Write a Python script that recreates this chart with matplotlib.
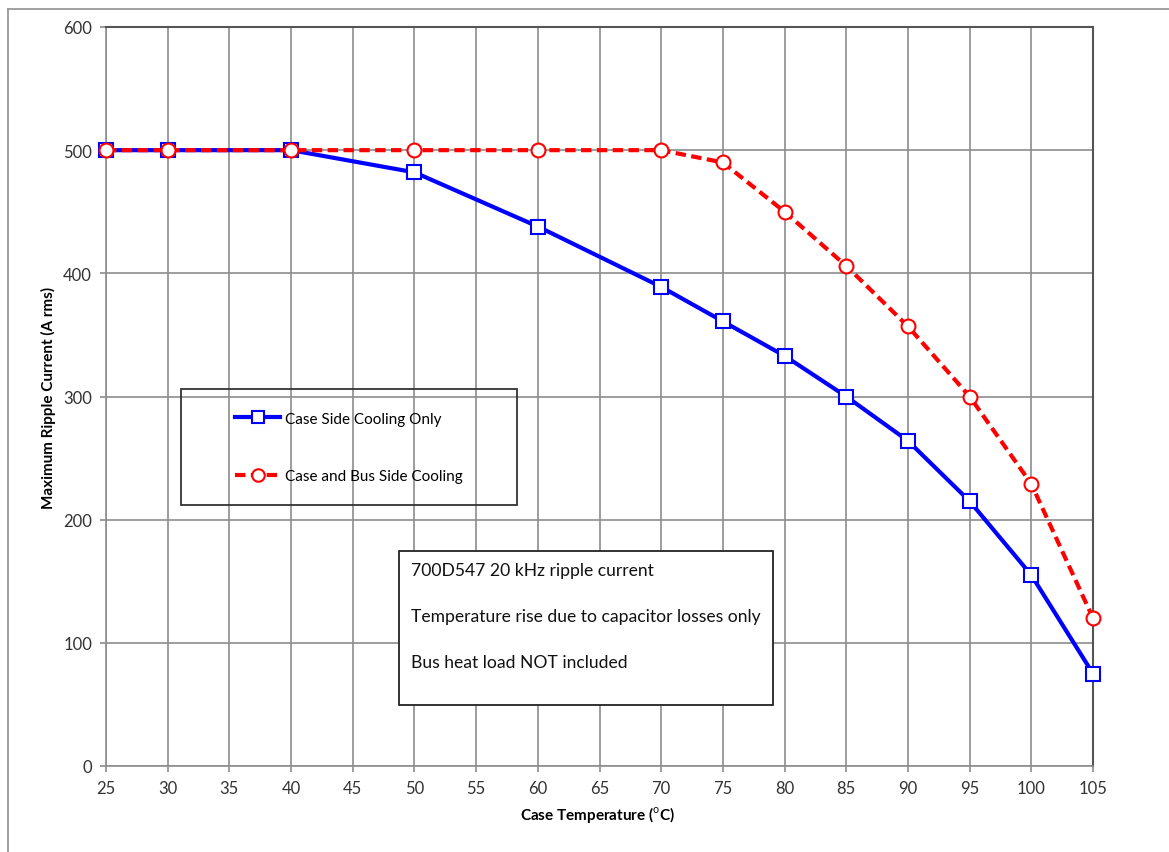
import matplotlib.pyplot as plt
from matplotlib.lines import Line2D
from matplotlib.patches import Rectangle

# case temperature (deg C)
temps = [25, 30, 40, 50, 60, 70, 75, 80, 85, 90, 95, 100, 105]
case_only = [500, 500, 500, 482, 438, 389, 361, 333, 300, 264, 215, 155, 75]
case_and_bus = [500, 500, 500, 500, 500, 500, 490, 450, 406, 357, 300, 229, 120]

x_ticks = list(range(25, 106, 5))
y_ticks = list(range(0, 601, 100))

note_lines = [
    "700D547 20 kHz ripple current",
    "Temperature rise due to capacitor losses only",
    "Bus heat load NOT included",
]

plt.rcParams['font.family'] = ['Lato', 'DejaVu Sans']
plt.rcParams['mathtext.fontset'] = 'custom'
plt.rcParams['mathtext.rm'] = 'Lato'

W, H = 1169, 853
fig = plt.figure(figsize=(W / 100, H / 100), dpi=100)
ax = fig.add_axes([106 / W, 1 - 767 / H, (1093 - 106) / W, (767 - 28) / H])

ax.plot(temps, case_only, color='#0000ff', linewidth=3, marker='s',
        markersize=10, markerfacecolor='white', markeredgecolor='#0000ff',
        markeredgewidth=1.5, label='Case Side Cooling Only', zorder=3,
        clip_on=False)
ax.plot(temps, case_and_bus, color='#ff0000', linewidth=3, linestyle=(0, (2.5, 1.3)),
        marker='o', markersize=10, markerfacecolor='white', markeredgecolor='#ff0000',
        markeredgewidth=1.5, label='Case and Bus Side Cooling', zorder=4,
        clip_on=False)

ax.set_xlim(25, 105)
ax.set_ylim(0, 600)
ax.set_xticks(x_ticks)
ax.set_yticks(y_ticks)
ax.grid(True, color='#8c8c8c', linewidth=1.2)
ax.set_axisbelow(True)
ax.tick_params(labelsize=12, colors='#8c8c8c', labelcolor='#333333',
               length=4, width=1.2, pad=6)
for side in ['left', 'bottom']:
    ax.spines[side].set_color('#8c8c8c')
    ax.spines[side].set_linewidth(1.2)
for side in ['top', 'right']:
    ax.spines[side].set_color('#555555')
    ax.spines[side].set_linewidth(1.5)

fig.text(48 / W, 1 - 398 / H, 'Maximum Ripple Current (A rms)', rotation=90,
         ha='center', va='center', fontsize=11, fontweight='bold')
fig.text(598 / W, 1 - 815 / H, r'Case Temperature ($^{\rm o}$C)',
         ha='center', va='center', fontsize=11, fontweight='bold')

# legend box
fig.patches.append(Rectangle((181 / W, 1 - 506 / H), (517 - 181) / W, (506 - 390) / H,
                             transform=fig.transFigure, fill=False,
                             edgecolor='#333333', linewidth=1.3))
handles, labels = ax.get_legend_handles_labels()
fig.legend(handles, labels, loc='upper left',
           bbox_to_anchor=(227 / W, 1 - 405 / H), frameon=False,
           fontsize=11, handlelength=3.0, handletextpad=0.3,
           labelspacing=2.85, borderpad=0, markerscale=0.9)

# note box
fig.patches.append(Rectangle((399 / W, 1 - 706 / H), (773 - 399) / W, (706 - 552) / H,
                             transform=fig.transFigure, facecolor='white',
                             edgecolor='#222222', linewidth=1.3, zorder=5))
for i, line in enumerate(note_lines):
    fig.text(411 / W, 1 - (571 + 46 * i) / H, line, ha='left', va='center',
             fontsize=12.6, color='#111111', zorder=6)

# outer chart border
fig.add_artist(Line2D([8 / W, 8 / W], [0, 1 - 10 / H], transform=fig.transFigure,
                      color='#999999', linewidth=1.3))
fig.add_artist(Line2D([8 / W, 1], [1 - 10 / H, 1 - 10 / H], transform=fig.transFigure,
                      color='#999999', linewidth=1.3))

fig.savefig('out.png', dpi=100)
